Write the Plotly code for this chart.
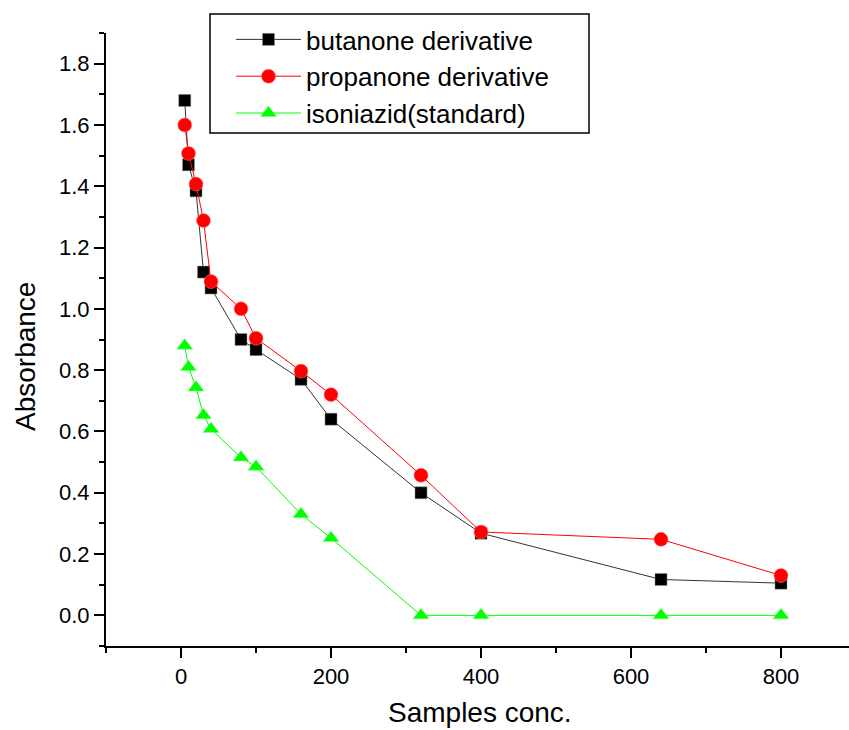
import plotly.graph_objects as go

conc = [5, 10, 20, 30, 40, 80, 100, 160, 200, 320, 400, 640, 800]
butanone = [1.68, 1.47, 1.385, 1.12, 1.068, 0.90, 0.867, 0.77, 0.64, 0.40, 0.268, 0.117, 0.105]
propanone = [1.60, 1.507, 1.407, 1.288, 1.089, 1.00, 0.904, 0.797, 0.72, 0.457, 0.272, 0.248, 0.13]
isoniazid = [0.88, 0.81, 0.743, 0.653, 0.608, 0.515, 0.485, 0.33, 0.252, 0.0, 0.0, 0.0, 0.0]

y_ticks = [0.0, 0.2, 0.4, 0.6, 0.8, 1.0, 1.2, 1.4, 1.6, 1.8]
x_ticks = [0, 200, 400, 600, 800]

FONT = "Liberation Sans, Arial, sans-serif"
W, H = 849, 730
L, R, T, B = 106, 0, 33, 84
PW, PH = W - L - R, H - T - B

def px_x(px):  # screen pixel -> paper x
    return (px - L) / PW

def px_y(py):  # screen pixel -> paper y
    return (H - B - py) / PH

fig = go.Figure()
fig.add_trace(go.Scatter(
    x=conc, y=butanone, name="butanone derivative", mode="lines+markers",
    line=dict(color="#333333", width=1),
    marker=dict(symbol="square", size=12, color="#000000",
                line=dict(color="#888888", width=0.5)),
))
fig.add_trace(go.Scatter(
    x=conc, y=propanone, name="propanone derivative", mode="lines+markers",
    line=dict(color="#FF0000", width=1),
    marker=dict(symbol="circle", size=14, color="#FF0000",
                line=dict(color="#FF8080", width=0.5)),
))
fig.add_trace(go.Scatter(
    x=conc, y=isoniazid, name="isoniazid(standard)", mode="lines+markers",
    line=dict(color="#00FF00", width=1),
    marker=dict(symbol="triangle-up", size=14, color="#00FF00",
                line=dict(color="#80FF80", width=0.5)),
))

axis_common = dict(
    showline=True, linecolor="black", linewidth=2,
    ticks="outside", ticklen=10, tickwidth=2, tickcolor="black",
    showgrid=False, zeroline=False,
    tickfont=dict(family=FONT, size=22, color="black"),
)

fig.update_xaxes(
    range=[-100, -100 + PW / 0.75], tickvals=x_ticks,
    minor=dict(dtick=100, tick0=0, ticks="outside", ticklen=5, tickwidth=2, tickcolor="black"),
    **axis_common,
)
fig.update_yaxes(
    range=[-0.1, 1.9], tickvals=y_ticks, tickformat=".1f",
    minor=dict(dtick=0.1, tick0=0.1, ticks="outside", ticklen=5, tickwidth=2, tickcolor="black"),
    **axis_common,
)

fig.add_annotation(
    text="Absorbance", xref="paper", yref="paper",
    x=px_x(25), y=px_y(357), textangle=-90, showarrow=False,
    font=dict(family=FONT, size=28, color="black"),
    xanchor="center", yanchor="middle",
)
fig.add_annotation(
    text="Samples conc.", xref="paper", yref="paper",
    x=px_x(480), y=px_y(730), showarrow=False,
    font=dict(family=FONT, size=28, color="black"),
    xanchor="center", yanchor="bottom",
)

# legend frame
fig.add_shape(
    type="rect", xref="paper", yref="paper",
    x0=px_x(210), x1=px_x(589), y0=px_y(133), y1=px_y(14),
    line=dict(color="black", width=1.5), fillcolor="white", layer="below",
)

fig.update_layout(
    width=W, height=H,
    margin=dict(l=L, r=R, t=T, b=B, autoexpand=False),
    paper_bgcolor="white", plot_bgcolor="white",
    font=dict(family=FONT, color="black"),
    legend=dict(
        x=px_x(231), y=px_y(16), xanchor="left", yanchor="top",
        borderwidth=0, bgcolor="rgba(0,0,0,0)",
        font=dict(family=FONT, size=26, color="black"),
        itemwidth=65, tracegroupgap=0,
    ),
)

fig.write_html(
    "out.html",
    config={"displayModeBar": False},
    post_script="document.body.style.margin='0';document.body.style.overflow='hidden';",
)
